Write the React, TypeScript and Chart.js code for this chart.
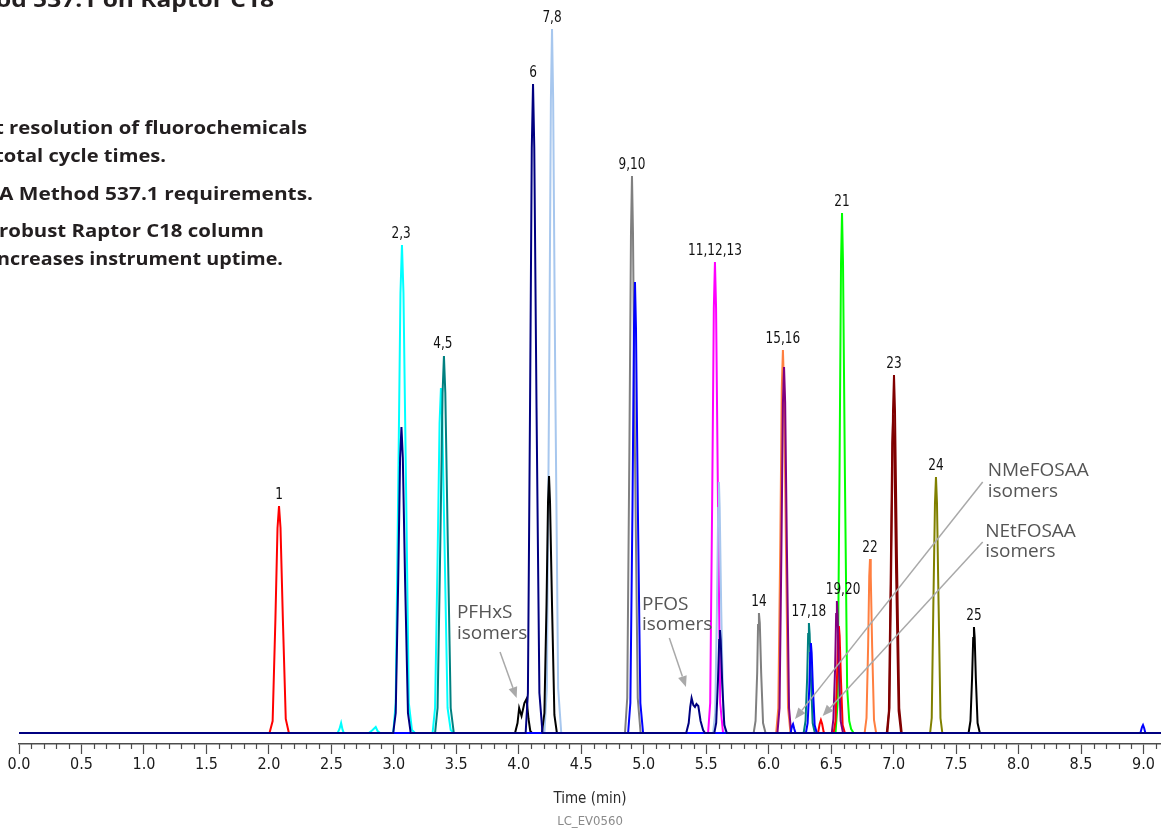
import React, { useEffect, useRef } from 'react';
import { Chart, registerables } from 'chart.js';

Chart.register(...registerables);

type P = [number, number];

// ---------- axis values ----------
const X_MIN = 0;
const X_MAX = 9.14;
const X_TICK_STEP = 0.1;
const Y_MIN = -11;
const Y_MAX = 733;

// ---------- traces (time in min, relative intensity) ----------
const NAVY: P[] = [
  [0, 0],
  [2.995, 0], [3.015, 20], [3.035, 153], [3.05, 275], [3.061, 306], [3.072, 275], [3.09, 153], [3.113, 20], [3.135, 0],
  [4.055, 0], [4.073, 40], [4.09, 325], [4.104, 585], [4.114, 649], [4.124, 585], [4.142, 325], [4.165, 40], [4.19, 0],
  [5.34, 0], [5.36, 10], [5.372, 26], [5.383, 35], [5.397, 28], [5.41, 26], [5.422, 29], [5.437, 27], [5.455, 12], [5.475, 3], [5.49, 0],
  [5.565, 0], [5.58, 10], [5.594, 52], [5.604, 93], [5.61, 103], [5.616, 93], [5.628, 50], [5.645, 8], [5.665, 0],
  [9.14, 0],
];
const BLUE: P[] = [
  [0, 0],
  [4.875, 0], [4.893, 30], [4.91, 225], [4.922, 405], [4.93, 451], [4.938, 405], [4.953, 225], [4.973, 30], [4.995, 0],
  [6.175, 0], [6.187, 7], [6.195, 9], [6.205, 4], [6.215, 0],
  [6.298, 0], [6.312, 10], [6.325, 45], [6.333, 80], [6.338, 90], [6.344, 80], [6.354, 45], [6.368, 8], [6.385, 0],
  [8.975, 0], [8.988, 6], [8.996, 8], [9.005, 5], [9.015, 0],
  [9.14, 0],
];
const PURPLE: P[] = [
  [0, 0],
  [6.07, 0], [6.087, 25], [6.102, 183], [6.114, 330], [6.123, 366], [6.132, 330], [6.146, 183], [6.163, 25], [6.18, 0],
  [6.505, 0], [6.518, 14], [6.532, 66], [6.54, 119], [6.546, 132], [6.552, 119], [6.562, 66], [6.576, 12], [6.595, 0],
  [9.14, 0],
];
const BLACK: P[] = [
  [0, 0],
  [3.97, 0], [3.99, 10], [4.003, 25], [4.022, 17], [4.045, 30], [4.062, 34], [4.078, 14], [4.092, 2], [4.105, 0],
  [4.185, 0], [4.205, 20], [4.222, 128], [4.234, 231], [4.242, 257], [4.25, 231], [4.266, 128], [4.285, 18], [4.305, 0],
  [7.6, 0], [7.615, 12], [7.628, 55], [7.637, 95], [7.643, 106], [7.649, 95], [7.658, 55], [7.672, 10], [7.69, 0],
  [9.14, 0],
];
const RED: P[] = [
  [0, 0],
  [2.005, 0], [2.03, 12], [2.052, 113], [2.069, 205], [2.081, 227], [2.093, 205], [2.112, 113], [2.135, 14], [2.16, 0],
  [6.395, 0], [6.408, 9], [6.418, 13], [6.428, 9], [6.44, 1], [6.45, 0],
  [6.52, 0], [6.535, 12], [6.548, 60], [6.556, 97], [6.562, 107], [6.568, 97], [6.578, 55], [6.592, 8], [6.61, 0],
  [9.14, 0],
];
const TEAL: P[] = [
  [0, 0],
  [3.33, 0], [3.35, 25], [3.372, 190], [3.39, 340], [3.401, 377], [3.412, 340], [3.432, 190], [3.455, 25], [3.48, 0],
  [6.28, 0], [6.295, 12], [6.308, 55], [6.316, 99], [6.322, 110], [6.328, 99], [6.338, 55], [6.352, 10], [6.37, 0],
  [9.14, 0],
];
const LIGHT_BLUE: P[] = [
  [0, 0],
  [4.205, 0], [4.225, 45], [4.243, 352], [4.257, 634], [4.266, 704], [4.275, 634], [4.292, 352], [4.315, 45], [4.34, 0],
  [5.555, 0], [5.572, 20], [5.586, 125], [5.596, 225], [5.602, 251], [5.608, 225], [5.62, 125], [5.637, 18], [5.655, 0],
  [9.14, 0],
];
const MAGENTA: P[] = [
  [0, 0],
  [5.515, 0], [5.532, 30], [5.548, 235], [5.561, 425], [5.57, 471], [5.579, 425], [5.594, 235], [5.612, 30], [5.635, 0],
  [9.14, 0],
];
const CORAL: P[] = [
  [0, 0],
  [6.06, 0], [6.077, 25], [6.093, 190], [6.105, 345], [6.114, 383], [6.123, 345], [6.138, 190], [6.155, 25], [6.175, 0],
  [6.768, 0], [6.783, 15], [6.796, 87], [6.805, 157], [6.811, 174], [6.817, 157], [6.828, 87], [6.843, 13], [6.86, 0],
  [9.14, 0],
];
const GREEN: P[] = [
  [0, 0],
  [6.535, 0], [6.552, 30], [6.567, 260], [6.579, 470], [6.587, 520], [6.595, 470], [6.61, 260], [6.628, 45], [6.645, 12], [6.66, 4], [6.68, 0],
  [9.14, 0],
];
const MAROON_A: P[] = [
  [0, 0],
  [6.95, 0], [6.967, 25], [6.982, 180], [6.995, 322], [7.003, 358], [7.011, 322], [7.026, 180], [7.045, 25], [7.065, 0],
  [9.14, 0],
];
const MAROON_B: P[] = [
  [0, 0],
  [6.945, 0], [6.962, 22], [6.977, 160], [6.989, 290], [6.997, 318], [7.005, 290], [7.02, 160], [7.04, 22], [7.06, 0],
  [9.14, 0],
];
const OLIVE: P[] = [
  [0, 0],
  [7.292, 0], [7.305, 15], [7.318, 128], [7.331, 230], [7.339, 256], [7.347, 230], [7.36, 128], [7.375, 15], [7.39, 0],
  [9.14, 0],
];
const GRAY: P[] = [
  [0, 0],
  [4.85, 0], [4.868, 35], [4.885, 280], [4.898, 500], [4.906, 557], [4.914, 500], [4.93, 280], [4.952, 35], [4.975, 0],
  [5.88, 0], [5.895, 12], [5.908, 60], [5.915, 108], [5.922, 120], [5.929, 110], [5.94, 60], [5.955, 10], [5.975, 0],
  [9.14, 0],
];
const CYAN: P[] = [
  [0, 0],
  [2.55, 0], [2.565, 4], [2.578, 10], [2.59, 3], [2.6, 0],
  [2.8, 0], [2.83, 3], [2.855, 6], [2.87, 2], [2.89, 0],
  [2.995, 0], [3.015, 30], [3.035, 244], [3.053, 440], [3.065, 488], [3.077, 440], [3.098, 244], [3.12, 30], [3.145, 3], [3.17, 0],
  [3.31, 0], [3.33, 25], [3.35, 173], [3.366, 310], [3.377, 345], [3.388, 310], [3.408, 173], [3.43, 25], [3.455, 3], [3.48, 0],
  [9.14, 0],
];

// drawing order: first is on top
const TRACES: { name: string; color: string; data: P[] }[] = [
  { name: 'navy', color: '#000080', data: NAVY },
  { name: 'blue', color: '#0000ff', data: BLUE },
  { name: 'purple', color: '#800080', data: PURPLE },
  { name: 'black', color: '#000000', data: BLACK },
  { name: 'red', color: '#ff0000', data: RED },
  { name: 'teal', color: '#008080', data: TEAL },
  { name: 'lightblue', color: '#a7c7ee', data: LIGHT_BLUE },
  { name: 'magenta', color: '#ff00ff', data: MAGENTA },
  { name: 'coral', color: '#ff7f40', data: CORAL },
  { name: 'green', color: '#00ff00', data: GREEN },
  { name: 'maroonA', color: '#800000', data: MAROON_A },
  { name: 'maroonB', color: '#800000', data: MAROON_B },
  { name: 'olive', color: '#808000', data: OLIVE },
  { name: 'gray', color: '#808080', data: GRAY },
  { name: 'cyan', color: '#00ffff', data: CYAN },
];

// peak labels: text, retention time, apex intensity
const PEAK_LABEL_TEXT = ['1', '2,3', '4,5', '6', '7,8', '9,10', '11,12,13', '14', '15,16', '17,18', '19,20', '21', '22', '23', '24', '25'];
const PEAK_LABEL_TIME = [2.081, 3.058, 3.393, 4.114, 4.266, 4.906, 5.57, 5.922, 6.114, 6.322, 6.595, 6.587, 6.811, 7.003, 7.339, 7.643];
const PEAK_LABEL_APEX = [227, 488, 378, 649, 704, 557, 471, 120, 383, 110, 132, 520, 174, 358, 256, 106];

// isomer annotations: text lines, text anchor (time, intensity), arrow tail and tip (time, intensity)
const ISOMER_TEXT = [['PFHxS', 'isomers'], ['PFOS', 'isomers'], ['NMeFOSAA', 'isomers'], ['NEtFOSAA', 'isomers']];
const ISOMER_TEXT_AT: P[] = [[3.505, 120], [4.986, 128.5], [7.753, 262], [7.733, 201.5]];
const ISOMER_ARROW_TAIL: P[] = [[3.85, 81], [5.205, 95], [7.713, 251], [7.713, 191]];
const ISOMER_ARROW_TIP: P[] = [[3.983, 35], [5.338, 46], [6.211, 14], [6.432, 17]];

const X_TITLE = 'Time (min)';
const FIG_CODE = 'LC_EV0560';

const HEADER_LINES = [
  { text: 'od 537.1 on Raptor C18', x: -4, y: 1, w: 278, size: 22 },
  { text: 't resolution of fluorochemicals', x: -5, y: 129, w: 312, size: 17 },
  { text: 'total cycle times.', x: -5, y: 157, w: 171, size: 17 },
  { text: 'A Method 537.1 requirements.', x: -1, y: 195, w: 314, size: 17 },
  { text: 'robust Raptor C18 column', x: -1, y: 232, w: 265, size: 17 },
  { text: 'ncreases instrument uptime.', x: -3, y: 260, w: 286, size: 17 },
];

const NARROW = "'Liberation Sans Narrow', 'DejaVu Sans Condensed', 'Roboto Condensed', 'Roboto', sans-serif";
const HUMAN = "'Open Sans', 'Noto Sans', sans-serif";

const isMajor = (v: number) => Math.abs(v * 2 - Math.round(v * 2)) < 1e-6;

function fitText(ctx: CanvasRenderingContext2D, text: string, x: number, y: number, w: number) {
  const m = ctx.measureText(text).width || 1;
  ctx.save();
  ctx.translate(x, y);
  ctx.scale(w / m, 1);
  ctx.fillText(text, 0, 0);
  ctx.restore();
}

const overlayPlugin = {
  id: 'overlay',
  afterDraw(chart: any) {
    const ctx: CanvasRenderingContext2D = chart.ctx;
    const xs = chart.scales.x;
    const ys = chart.scales.y;
    const area = chart.chartArea;
    ctx.save();

    // minor ticks
    ctx.strokeStyle = '#4d4d4d';
    ctx.lineWidth = 1.2;
    for (const t of xs.ticks) {
      if (isMajor(t.value)) continue;
      const px = Math.round(xs.getPixelForValue(t.value)) + 0.5;
      ctx.beginPath();
      ctx.moveTo(px, xs.top);
      ctx.lineTo(px, xs.top + 5);
      ctx.stroke();
    }

    // peak labels (slightly condensed)
    ctx.fillStyle = '#111111';
    ctx.font = `16px ${NARROW}`;
    ctx.textAlign = 'center';
    ctx.textBaseline = 'middle';
    PEAK_LABEL_TEXT.forEach((txt, i) => {
      const px = xs.getPixelForValue(PEAK_LABEL_TIME[i]);
      const py = ys.getPixelForValue(PEAK_LABEL_APEX[i]) - 11;
      ctx.save();
      ctx.translate(px, py);
      ctx.scale(0.84, 1);
      ctx.fillText(txt, 0, 0);
      ctx.restore();
    });

    // isomer arrows
    ctx.strokeStyle = '#a9a9a9';
    ctx.fillStyle = '#a9a9a9';
    ctx.lineWidth = 1.5;
    ISOMER_ARROW_TAIL.forEach((tail, i) => {
      const tip = ISOMER_ARROW_TIP[i];
      const x1 = xs.getPixelForValue(tail[0]);
      const y1 = ys.getPixelForValue(tail[1]);
      const x2 = xs.getPixelForValue(tip[0]);
      const y2 = ys.getPixelForValue(tip[1]);
      const ang = Math.atan2(y2 - y1, x2 - x1);
      const L = 11;
      const W = 4.5;
      const bx = x2 - L * Math.cos(ang);
      const by = y2 - L * Math.sin(ang);
      ctx.beginPath();
      ctx.moveTo(x1, y1);
      ctx.lineTo(bx, by);
      ctx.stroke();
      ctx.beginPath();
      ctx.moveTo(x2, y2);
      ctx.lineTo(bx + W * Math.sin(ang), by - W * Math.cos(ang));
      ctx.lineTo(bx - W * Math.sin(ang), by + W * Math.cos(ang));
      ctx.closePath();
      ctx.fill();
    });

    // isomer texts
    ctx.fillStyle = '#555555';
    ctx.font = `19px ${HUMAN}`;
    ctx.textAlign = 'left';
    ctx.textBaseline = 'middle';
    ISOMER_TEXT.forEach((lines, i) => {
      const px = xs.getPixelForValue(ISOMER_TEXT_AT[i][0]);
      const py = ys.getPixelForValue(ISOMER_TEXT_AT[i][1]);
      lines.forEach((ln, j) => ctx.fillText(ln, px, py + j * 20.5));
    });

    // header text block
    ctx.fillStyle = '#231f20';
    ctx.textAlign = 'left';
    ctx.textBaseline = 'middle';
    HEADER_LINES.forEach((h) => {
      ctx.font = `bold ${h.size}px ${HUMAN}`;
      fitText(ctx, h.text, h.x, h.y, h.w);
    });

    // axis title and figure code
    const cx = (area.left + area.right) / 2;
    ctx.textAlign = 'center';
    ctx.fillStyle = '#2b2b2b';
    ctx.font = `15px ${NARROW}`;
    ctx.fillText(X_TITLE, cx, 799);
    ctx.fillStyle = '#8a8a8a';
    ctx.font = `13px ${NARROW}`;
    ctx.fillText(FIG_CODE, cx, 822);

    ctx.restore();
  },
};

export default function App() {
  const ref = useRef<HTMLCanvasElement | null>(null);
  useEffect(() => {
    if (!ref.current) return;
    const chart = new Chart(ref.current, {
      type: 'scatter',
      data: {
        datasets: TRACES.map((t) => ({
          label: t.name,
          data: t.data.map(([x, y]) => ({ x, y })),
          borderColor: t.color,
          backgroundColor: t.color,
          showLine: true,
          borderWidth: 2,
          pointRadius: 0,
          tension: 0,
          fill: false,
        })),
      },
      options: {
        animation: false,
        responsive: true,
        maintainAspectRatio: false,
        layout: { padding: { left: 19, right: 0, top: 0, bottom: 0 } },
        plugins: {
          legend: { display: false },
          tooltip: { enabled: false },
        },
        events: [],
        scales: {
          x: {
            type: 'linear',
            min: X_MIN,
            max: X_MAX,
            afterFit: (s: any) => {
              s.height = 87;
            },
            border: { display: true, color: '#4d4d4d', width: 1.5 },
            grid: {
              drawOnChartArea: false,
              drawTicks: true,
              tickLength: 10,
              tickWidth: 1.2,
              tickColor: (c: any) => (c.tick && isMajor(c.tick.value) ? '#4d4d4d' : 'rgba(0,0,0,0)'),
            },
            ticks: {
              stepSize: X_TICK_STEP,
              autoSkip: false,
              maxRotation: 0,
              includeBounds: false,
              padding: 1,
              color: '#1a1a1a',
              font: { family: NARROW, size: 16 },
              callback: (v: any) => (isMajor(Number(v)) ? Number(v).toFixed(1) : ''),
            },
          },
          y: { display: false, min: Y_MIN, max: Y_MAX },
        },
      },
      plugins: [overlayPlugin],
    } as any);
    return () => chart.destroy();
  }, []);
  return (
    <div style={{ position: 'fixed', left: 0, top: 0, width: 1161, height: 831, background: '#fff' }}>
      <canvas ref={ref} />
    </div>
  );
}
